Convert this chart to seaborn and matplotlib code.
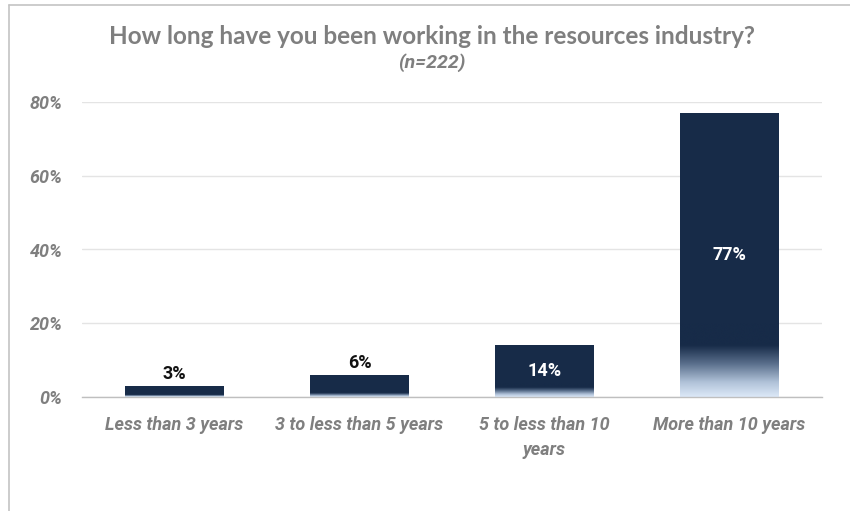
import matplotlib
matplotlib.use("Agg")
import matplotlib.pyplot as plt
import seaborn as sns
import numpy as np
import pandas as pd
from matplotlib.colors import LinearSegmentedColormap
from matplotlib.lines import Line2D

categories = ["Less than 3 years", "3 to less than 5 years", "5 to less than 10\nyears", "More than 10 years"]
values = [3, 6, 14, 77]
value_labels = ["3%", "6%", "14%", "77%"]
y_ticks = [0, 20, 40, 60, 80]
y_tick_labels = ["0%", "20%", "40%", "60%", "80%"]
title = "How long have you been working in the resources industry?"
subtitle = "(n=222)"

sns.set_theme(style="white")
plt.rcParams['font.family'] = ['Lato', 'DejaVu Sans']
BI = ['Roboto', 'DejaVu Sans']

NAVY = "#172b48"
GRAY = "#7f7f7f"

fig = plt.figure(figsize=(8.5, 5.11), dpi=100)
ax = fig.add_axes([82/850, 1-397/511, 740/850, (397-102)/511])

df = pd.DataFrame({"cat": categories, "val": values})
sns.barplot(data=df, x="cat", y="val", color=NAVY, width=0.535, ax=ax,
            saturation=1, linewidth=0)

ax.set_xlim(-0.5, 3.5)
ax.set_ylim(0, 80)
ax.set_yticks(y_ticks, labels=y_tick_labels, family=BI, fontweight="bold",
              fontstyle="italic", fontsize=13, color=GRAY)
ax.set_xticks(range(len(categories)), labels=categories, family=BI, fontweight="bold",
              fontstyle="italic", fontsize=13, color=GRAY, linespacing=1.45)
ax.grid(axis="y", color="#e4e4e4", linewidth=1)
ax.set_axisbelow(True)
for s in ["top", "right", "left"]:
    ax.spines[s].set_visible(False)
ax.spines["bottom"].set_color("#bfbfbf")
ax.spines["bottom"].set_linewidth(1)
ax.set_xlabel("")
ax.set_ylabel("")
ax.tick_params(axis="y", length=0, pad=14)
ax.tick_params(axis="x", which="major", length=0, pad=14)
ax.set_xticks([-0.5, 0.5, 1.5, 2.5, 3.5], minor=True)
ax.tick_params(axis="x", which="minor", length=6, color="#bfbfbf", width=1, direction="out")

# gradient at bottom of bars
cmap = LinearSegmentedColormap.from_list(
    "g", [(0.0, "#dde9f8"), (0.2, "#b0c2d8"), (0.45, "#5a6f8c"), (0.7, NAVY), (1.0, NAVY)])
grad = np.linspace(0, 1, 512).reshape(-1, 1)
for p in ax.patches:
    x0, w, h = p.get_x(), p.get_width(), p.get_height()
    gh = h * 0.26
    im = ax.imshow(grad, cmap=cmap, aspect="auto", origin="lower",
                   extent=[x0, x0 + w, 0, gh], zorder=p.get_zorder() + 0.1,
                   interpolation="bilinear")
    im.set_clip_path(p)
ax.set_xlim(-0.5, 3.5)
ax.set_ylim(0, 80)

for i, (v, t) in enumerate(zip(values, value_labels)):
    if v < 10:
        ax.text(i, v + 0.8, t, ha="center", va="bottom", fontsize=13,
                family=BI, fontweight="bold", color="#111111")
    else:
        ax.text(i, v / 2, t, ha="center", va="center", fontsize=13,
                family=BI, fontweight="bold", color="white", zorder=5)

fig.text(432/850, 1-37/511, title, ha="center", va="center", fontsize=17.5,
         fontweight="bold", color=GRAY)
fig.text(432/850, 1-63/511, subtitle, ha="center", va="center", fontsize=14,
         family=BI, fontweight="bold", fontstyle="italic", color=GRAY)

# outer frame (left and top)
fig.add_artist(Line2D([8.5/850, 8.5/850], [0, 1-5/511], transform=fig.transFigure,
                      color="#c4c4c4", linewidth=1.2))
fig.add_artist(Line2D([8.5/850, 1], [1-5/511, 1-5/511], transform=fig.transFigure,
                      color="#c4c4c4", linewidth=1.2))

fig.savefig("out.png", dpi=100)
